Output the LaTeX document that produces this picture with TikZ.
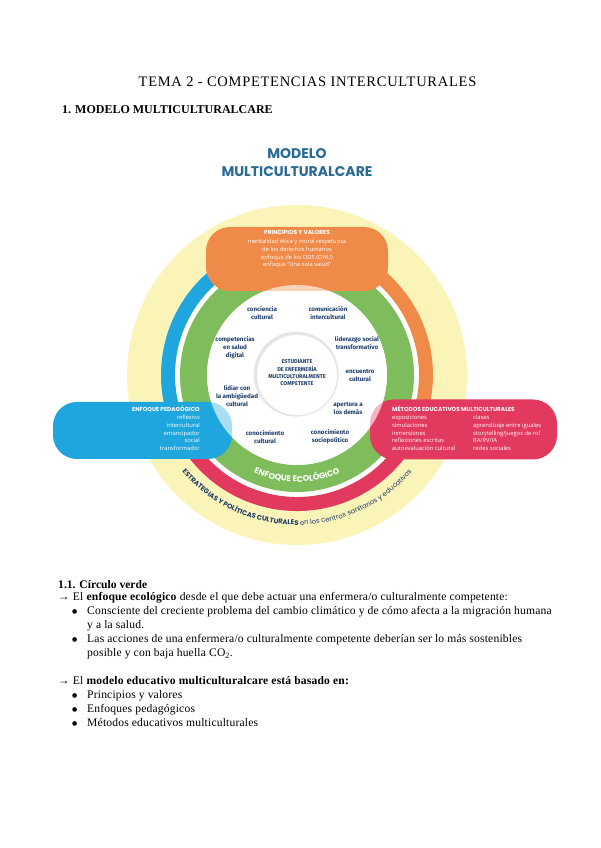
\documentclass[tikz,border=0pt]{standalone}
\usepackage{fontspec}
\setmainfont{Liberation Serif}
\newfontfamily\pop{Poppins}
\newfontfamily\osans{Open Sans}
\newfontfamily\fira{Fira Sans}
\newfontfamily\dejav{DejaVu Sans}
\usetikzlibrary{decorations.text}
\definecolor{cyel}{HTML}{FBF4B8}
\definecolor{cblue}{HTML}{1FA6DE}
\definecolor{corange}{HTML}{EF8A48}
\definecolor{cred}{HTML}{E23A5E}
\definecolor{cgreen}{HTML}{7FBC5B}
\definecolor{cnavy}{HTML}{1E3D6B}
\definecolor{ctitle}{HTML}{2A6B95}
\begin{document}
\begin{tikzpicture}[x=1pt,y=1pt,
  ring/.style={line width=14pt},
  box/.style={rounded corners=24pt, inner sep=0, draw=none},
  lbl/.style={font=\fira\bfseries\fontsize{6.2}{8}\selectfont, text=cnavy, align=center, inner sep=0},
  boxtitle/.style={font=\pop\bfseries\fontsize{5.8}{7}\selectfont, text=white, inner sep=0},
  boxtxt/.style={font=\osans\fontsize{5.8}{7.6}\selectfont, text=white, inner sep=0},
  body/.style={font=\fontsize{11.6}{13}\selectfont\addfontfeature{LetterSpace=1.5}, anchor=base west, inner sep=0},
  bul/.style={font=\dejav\fontsize{6}{7}\selectfont, anchor=base west, inner sep=0},
]
\useasboundingbox[fill=white] (0,0) rectangle (600,848);
% page headings
\node[anchor=base, font=\fontsize{14.5}{16}\selectfont\addfontfeature{LetterSpace=5}, inner sep=0] (tema) at (307.5,848-87) {TEMA 2 - COMPETENCIAS INTERCULTURALES};
\node[anchor=base west, font=\bfseries\fontsize{12}{14}\selectfont, inner sep=0] (sec) at (62,848-114) {1. MODELO MULTICULTURALCARE};
% diagram title
\node[anchor=base, font=\pop\bfseries\fontsize{14}{16}\selectfont, text=ctitle, inner sep=0] (t1) at (297,848-159) {MODELO};
\node[anchor=base, font=\pop\bfseries\fontsize{14}{16}\selectfont, text=ctitle, inner sep=0] (t2) at (297,848-177) {MULTICULTURALCARE};
\begin{scope}[shift={(297,473)}]
  \fill[cyel] (0,0) circle (170);
  \fill[white] (0,0) circle (122);
  \draw[ring, cblue] (200:129) arc (200:100:129);
  \draw[ring, corange] (80:129) arc (80:-20:129);
  \draw[ring, cred] (205:129) arc (205:335:129);
  \draw[cgreen, line width=27pt] (0,0) circle (103.5);
  % boxes
  \node[box, fill=corange, minimum width=182, minimum height=64] (pv) at (0,116) {};
  \node[box, fill=cblue, minimum width=179, minimum height=57] (ep) at (-154.5,-55.5) {};
  \node[box, fill=cred, minimum width=187, minimum height=60] (me) at (166.5,-54.5) {};
  % lighten overlaps with inner disc
  \fill[white, opacity=0.62] (0,0) circle (90);
  % centre circle
  \fill[black!10] (-0.8,0.8) circle (42.5);
  \node[circle, fill=white, minimum size=80, inner sep=0] (core) at (0,0) {};
  % curved texts
  \begin{scope}
    \pop\bfseries\fontsize{8.2}{9}\selectfont
    \path[decorate, decoration={text along path, text align=center, text color=white,
       text={ENFOQUE ECOLÓGICO}}] (236:107) arc (236:304:107);
  \end{scope}
  \begin{scope}
    \pop\bfseries\fontsize{6.8}{8}\selectfont
    \path[decorate, decoration={text along path, text align=center, text color=cnavy,
       text={ESTRATEGIAS Y POLÍTICAS CULTURALES |\mdseries|en los centros sanitarios y educativos}}] (205:150) arc (205:335:150);
  \end{scope}
  % box texts
  \node[boxtitle, anchor=base] (pvt) at (0,375-235) {PRINCIPIOS Y VALORES};
  \node[boxtxt, anchor=base, align=center] (pvl) at (0,375-266.8) {mentalidad ética y moral respetuosa\\de los derechos humanos\\enfoque de los ODS (ONU)\\enfoque “Una sola salud”};
  \node[boxtitle, anchor=base east] (ept) at (-97,375-412) {ENFOQUE PEDAGÓGICO};
  \node[boxtxt, anchor=base east, align=right] (epl) at (-97,375-450.4) {reflexivo\\intercultural\\emancipador\\social\\transformador};
  \node[boxtitle, anchor=base west] (met) at (95,375-412) {MÉTODOS EDUCATIVOS MULTICULTURALES};
  \node[boxtxt, anchor=base west, align=left] (mel1) at (95,375-450.4) {exposiciones\\simulaciones\\inmersiones\\reflexiones escritas\\autoevaluación cultural};
  \node[boxtxt, anchor=base west, align=left] (mel2) at (176,375-450.4) {clases\\aprendizaje entre iguales\\storytelling/juegos de rol\\RA/RV/IA\\redes sociales};
  % inner labels
  \node[lbl] (c1) at (-35,62) {conciencia\\cultural};
  \node[lbl] (c2) at (31,62) {comunicación\\intercultural};
  \node[lbl] (c3) at (-62,27) {competencias\\en salud\\digital};
  \node[lbl] (c4) at (60,32) {liderazgo social\\transformativo};
  \node[lbl] (c5) at (63,-1) {encuentro\\cultural};
  \node[lbl] (c6) at (-60,-21) {lidiar con\\la ambigüedad\\cultural};
  \node[lbl] (c7) at (51,-34) {apertura a\\los demás};
  \node[lbl] (c8) at (-32,-62) {conocimiento\\cultural};
  \node[lbl] (c9) at (33,-62) {conocimiento\\sociopolítico};
  \node[lbl, font=\fira\bfseries\fontsize{5.6}{7.3}\selectfont] (ctr) at (0,2) {ESTUDIANTE\\DE ENFERMERÍA\\MULTICULTURALMENTE\\COMPETENTE};
\end{scope}
% body text
\node[body, font=\bfseries\fontsize{11.6}{13}\selectfont] (h11) at (58,848-589) {1.1. Círculo verde};
\node[body] (l1) at (58,848-601) {→ El \textbf{enfoque ecológico} desde el que debe actuar una enfermera/o culturalmente competente:};
\node[bul] (b1) at (72,848-614) {●};
\node[body] (l2) at (87,848-615) {Consciente del creciente problema del cambio climático y de cómo afecta a la migración humana};
\node[body] (l3) at (87,848-629) {y a la salud.};
\node[bul] (b2) at (72,848-642) {●};
\node[body] (l4) at (87,848-643) {Las acciones de una enfermera/o culturalmente competente deberían ser lo más sostenibles};
\node[body] (l5) at (87,848-657) {posible y con baja huella CO\textsubscript{2}.};
\node[body] (l6) at (58,848-685) {→ El \textbf{modelo educativo multiculturalcare está basado en:}};
\node[bul] (b3) at (72,848-698) {●};
\node[body] (l7) at (87,848-699) {Principios y valores};
\node[bul] (b4) at (72,848-712) {●};
\node[body] (l8) at (87,848-713) {Enfoques pedagógicos};
\node[bul] (b5) at (72,848-726) {●};
\node[body] (l9) at (87,848-727) {Métodos educativos multiculturales};
\end{tikzpicture}
\end{document}
